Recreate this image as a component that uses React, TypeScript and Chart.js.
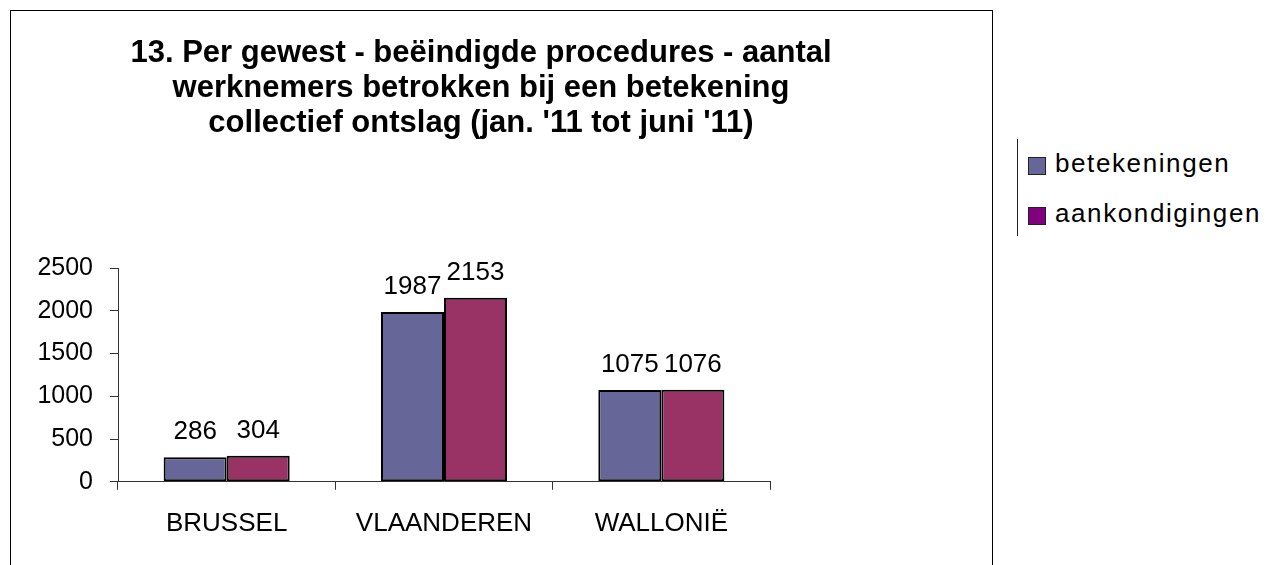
import React, { useEffect, useRef } from "react";
import { Chart, registerables } from "chart.js";

Chart.register(...registerables);

const categories = ["BRUSSEL", "VLAANDEREN", "WALLONIË"];
const betekeningen = [286, 1987, 1075];
const aankondigingen = [304, 2153, 1076];
const seriesNames = ["betekeningen", "aankondigingen"];
const titleLines = [
  "13. Per gewest - beëindigde procedures - aantal",
  "werknemers betrokken bij een betekening",
  "collectief ontslag (jan. '11 tot juni '11)",
];
const yTicks = { min: 0, max: 2500, step: 500 };

const FONT = '"Liberation Sans", Arial, sans-serif';
const barColors = ["#666699", "#993366"];
const legendColors = ["#666699", "#800080"];

const valueLabels = {
  id: "valueLabels",
  afterDatasetsDraw(chart: any) {
    const ctx = chart.ctx;
    ctx.save();
    ctx.font = `26px ${FONT}`;
    ctx.fillStyle = "#000";
    ctx.textAlign = "center";
    ctx.textBaseline = "alphabetic";
    chart.data.datasets.forEach((ds: any, i: number) => {
      const meta = chart.getDatasetMeta(i);
      meta.data.forEach((bar: any, j: number) => {
        ctx.fillText(String(ds.data[j]), bar.x, bar.y - 18);
      });
    });
    ctx.restore();
  },
};

export default function App() {
  const ref = useRef<HTMLCanvasElement | null>(null);

  useEffect(() => {
    if (!ref.current) return;
    const chart = new Chart(ref.current, {
      type: "bar",
      data: {
        labels: categories,
        datasets: [
          {
            label: seriesNames[0],
            data: betekeningen,
            backgroundColor: barColors[0],
            borderColor: "#000",
            borderWidth: 2,
            borderSkipped: false,
          },
          {
            label: seriesNames[1],
            data: aankondigingen,
            backgroundColor: barColors[1],
            borderColor: "#000",
            borderWidth: 2,
            borderSkipped: false,
          },
        ],
      },
      options: {
        responsive: false,
        animation: false,
        datasets: { bar: { categoryPercentage: 0.58, barPercentage: 1.0 } },
        layout: { padding: { top: 0, left: 0, right: 0, bottom: 8 } },
        plugins: {
          legend: { display: false },
          tooltip: { enabled: false },
          title: {
            display: true,
            text: titleLines,
            color: "#000",
            font: { family: FONT, size: 31, weight: "bold", lineHeight: 1.13 },
            padding: { top: 36, bottom: 127 },
          },
        },
        scales: {
          x: {
            grid: {
              display: true,
              drawOnChartArea: false,
              drawTicks: true,
              tickLength: 8,
              color: "#333",
              offset: true,
            },
            border: { display: true, color: "#333", width: 1 },
            ticks: {
              color: "#000",
              padding: 18,
              font: { family: FONT, size: 26, lineHeight: 1.2 },
              maxRotation: 0,
            },
          },
          y: {
            min: yTicks.min,
            max: yTicks.max,
            afterFit: (scale: any) => {
              scale.width = 118;
            },
            grid: {
              display: true,
              drawOnChartArea: false,
              drawTicks: true,
              tickLength: 8,
              color: "#333",
            },
            border: { display: true, color: "#333", width: 1 },
            ticks: {
              stepSize: yTicks.step,
              color: "#000",
              padding: 17,
              font: { family: FONT, size: 25 },
              callback: (v: any) => String(v),
            },
          },
          spacer: {
            type: "linear",
            position: "right",
            afterFit: (scale: any) => {
              scale.width = 192;
            },
            grid: { display: false, drawTicks: false },
            border: { display: false },
            ticks: { display: false },
          },
        },
      },
      plugins: [valueLabels],
    } as any);
    return () => chart.destroy();
  }, []);

  return (
    <div
      style={{
        position: "absolute",
        left: 0,
        top: 0,
        width: 1267,
        height: 565,
        overflow: "hidden",
        background: "#fff",
      }}
    >
      <div
        style={{
          position: "absolute",
          left: 10,
          top: 10,
          width: 981,
          height: 600,
          borderLeft: "1px solid #000",
          borderTop: "1px solid #000",
          borderRight: "1px solid #000",
        }}
      />
      <canvas
        ref={ref}
        width={962}
        height={565}
        style={{ position: "absolute", left: 0, top: 0, width: 962, height: 565 }}
      />
      <div
        style={{
          position: "absolute",
          left: 1017,
          top: 139,
          width: 0,
          height: 97,
          borderLeft: "1px solid #222",
        }}
      />
      {seriesNames.map((name, i) => (
        <div key={name}>
          <div
            style={{
              position: "absolute",
              left: 1028,
              top: 157 + i * 50,
              width: 16,
              height: 16,
              background: legendColors[i],
              border: "1px solid #222",
            }}
          />
          <div
            style={{
              position: "absolute",
              left: 1055,
              top: 148 + i * 50,
              fontFamily: FONT,
              fontSize: 26,
              lineHeight: "30px",
              letterSpacing: "1.6px",
              color: "#000",
              whiteSpace: "nowrap",
            }}
          >
            {name}
          </div>
        </div>
      ))}
    </div>
  );
}
